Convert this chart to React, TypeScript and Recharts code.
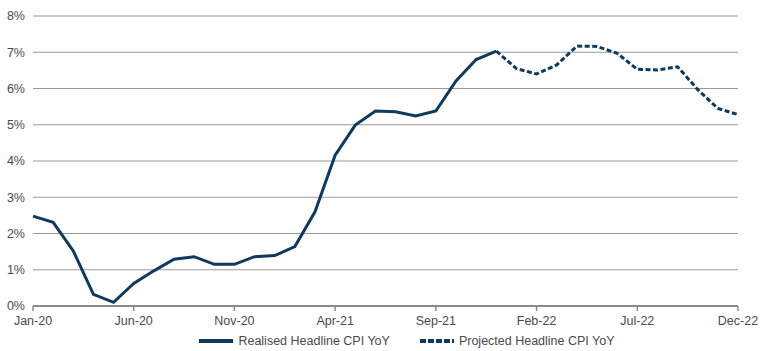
import React from "react";
import { LineChart, Line, XAxis, YAxis, CartesianGrid } from "recharts";

const months = [
  "Jan-20","Feb-20","Mar-20","Apr-20","May-20","Jun-20","Jul-20","Aug-20","Sep-20","Oct-20","Nov-20","Dec-20",
  "Jan-21","Feb-21","Mar-21","Apr-21","May-21","Jun-21","Jul-21","Aug-21","Sep-21","Oct-21","Nov-21","Dec-21",
  "Jan-22","Feb-22","Mar-22","Apr-22","May-22","Jun-22","Jul-22","Aug-22","Sep-22","Oct-22","Nov-22","Dec-22",
];

const realised: (number | null)[] = [
  2.48, 2.31, 1.52, 0.32, 0.1, 0.62, 0.97, 1.29, 1.36, 1.15, 1.15, 1.36,
  1.39, 1.64, 2.6, 4.16, 4.99, 5.38, 5.36, 5.24, 5.38, 6.21, 6.8, 7.03,
  null, null, null, null, null, null, null, null, null, null, null, null,
];

const projected: (number | null)[] = [
  null, null, null, null, null, null, null, null, null, null, null, null,
  null, null, null, null, null, null, null, null, null, null, null, 7.03,
  6.55, 6.4, 6.65, 7.17, 7.16, 6.97, 6.53, 6.51, 6.6, 5.97, 5.45, 5.28,
];

const xTicks = ["Jan-20", "Jun-20", "Nov-20", "Apr-21", "Sep-21", "Feb-22", "Jul-22", "Dec-22"];
const yTicks = [0, 1, 2, 3, 4, 5, 6, 7, 8];

const seriesNames = ["Realised Headline CPI YoY", "Projected Headline CPI YoY"];

const data = months.map((m, i) => ({ month: m, realised: realised[i], projected: projected[i] }));

const NAVY = "#0f3a5f";
const FONT = "'Liberation Sans', Arial, sans-serif";
const TEXT = "#4a4a4a";

const LegendRow = () => (
  <div
    style={{
      position: "absolute",
      left: 0,
      top: 334,
      width: 770,
      display: "flex",
      justifyContent: "center",
      alignItems: "center",
      fontFamily: FONT,
      fontSize: 12.5,
      color: TEXT,
      paddingLeft: 44,
      boxSizing: "border-box",
    }}
  >
    <svg width={34} height={8} style={{ marginRight: 5 }}>
      <line x1={0} y1={4} x2={34} y2={4} stroke={NAVY} strokeWidth={4} />
    </svg>
    <span style={{ marginRight: 30 }}>{seriesNames[0]}</span>
    <svg width={34} height={8} style={{ marginRight: 5 }}>
      <line x1={0} y1={4} x2={34} y2={4} stroke={NAVY} strokeWidth={4} strokeDasharray="6 2" />
    </svg>
    <span>{seriesNames[1]}</span>
  </div>
);

export default function App() {
  return (
    <div style={{ position: "absolute", left: 0, top: 0, width: 770, height: 351, background: "#fff" }}>
      <LineChart
        width={770}
        height={351}
        data={data}
        margin={{ top: 16, right: 32, bottom: 20, left: 0 }}
      >
        <CartesianGrid vertical={false} stroke="#9a9a9a" strokeWidth={1.2} />
        <XAxis
          dataKey="month"
          ticks={xTicks}
          interval={0}
          height={25}
          tick={{ fill: TEXT, fontSize: 12.5, fontFamily: FONT }}
          tickSize={5}
          tickMargin={5}
          axisLine={{ stroke: "#8a8a8a", strokeWidth: 2 }}
          tickLine={{ stroke: "#8a8a8a", strokeWidth: 1.5 }}
        />
        <YAxis
          width={33}
          domain={[0, 8]}
          ticks={yTicks}
          interval={0}
          tickFormatter={(v: number) => `${v}%`}
          tick={{ fill: TEXT, fontSize: 12.5, fontFamily: FONT }}
          axisLine={false}
          tickLine={false}
        />
        <Line
          dataKey="realised"
          type="linear"
          stroke={NAVY}
          strokeWidth={3}
          dot={false}
          isAnimationActive={false}
          connectNulls={false}
        />
        <Line
          dataKey="projected"
          type="linear"
          stroke={NAVY}
          strokeWidth={3}
          strokeDasharray="5 2.5"
          dot={false}
          isAnimationActive={false}
          connectNulls={false}
        />
      </LineChart>
      <LegendRow />
    </div>
  );
}
